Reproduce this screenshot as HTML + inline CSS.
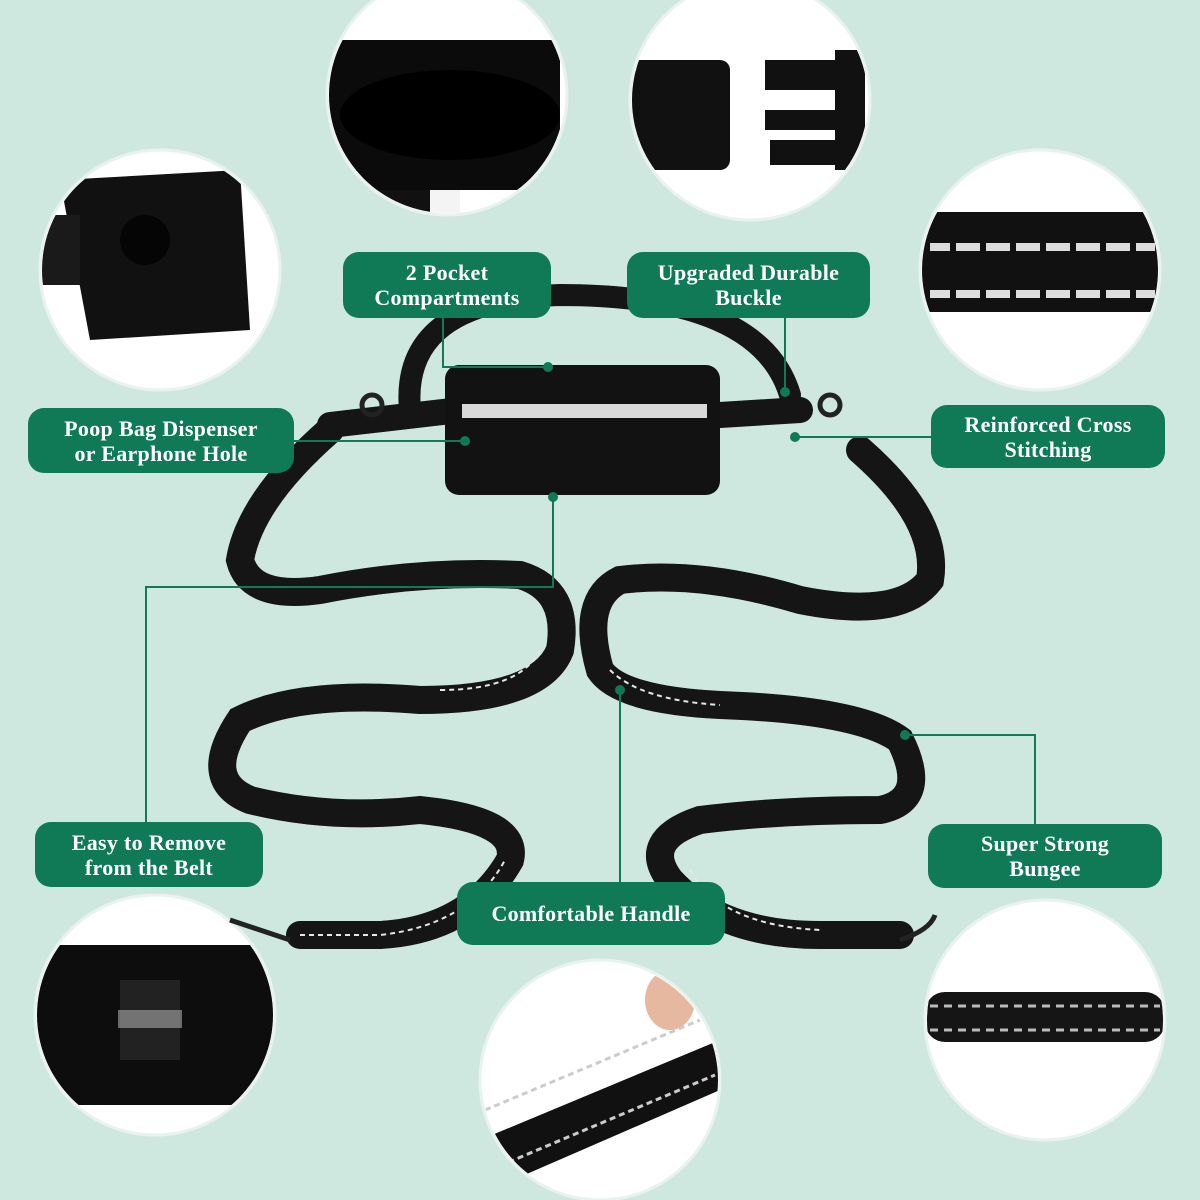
<!DOCTYPE html>
<html><head><meta charset="utf-8"><style>
html,body{margin:0;padding:0}
body{width:1200px;height:1200px;position:relative;overflow:hidden;background:#cfe8df;font-family:"Liberation Serif",serif}
.l{position:absolute;background:#0f7a55;color:#fff;font-weight:bold;font-size:22px;line-height:25px;text-align:center;border-radius:16px;display:flex;align-items:center;justify-content:center;letter-spacing:.3px}
svg{position:absolute;left:0;top:0}
</style></head><body>
<svg width="1200" height="1200" viewBox="0 0 1200 1200">
<defs>
<clipPath id="c1"><circle cx="447" cy="95" r="118"/></clipPath>
<clipPath id="c2"><circle cx="750" cy="100" r="118"/></clipPath>
<clipPath id="c3"><circle cx="160" cy="270" r="118"/></clipPath>
<clipPath id="c4"><circle cx="1040" cy="270" r="118"/></clipPath>
<clipPath id="c5"><circle cx="155" cy="1015" r="118"/></clipPath>
<clipPath id="c6"><circle cx="600" cy="1080" r="118"/></clipPath>
<clipPath id="c7"><circle cx="1045" cy="1020" r="118"/></clipPath>
</defs>
<!-- circles -->
<g fill="#fff" stroke="#e8f2ee" stroke-width="3">
<circle cx="447" cy="95" r="120"/><circle cx="750" cy="100" r="120"/>
<circle cx="160" cy="270" r="120"/><circle cx="1040" cy="270" r="120"/>
<circle cx="155" cy="1015" r="120"/><circle cx="600" cy="1080" r="120"/>
<circle cx="1045" cy="1020" r="120"/>
</g>
<g clip-path="url(#c1)"><rect x="320" y="40" width="240" height="150" fill="#0b0b0b"/><ellipse cx="450" cy="115" rx="110" ry="45" fill="#000"/><rect x="430" y="190" width="30" height="40" fill="#f4f4f4"/><rect x="330" y="190" width="100" height="30" fill="#111"/></g>
<g clip-path="url(#c2)"><rect x="630" y="60" width="100" height="110" rx="10" fill="#111"/><rect x="765" y="60" width="80" height="30" fill="#111"/><rect x="765" y="110" width="80" height="20" fill="#111"/><rect x="770" y="140" width="80" height="25" fill="#111"/><rect x="835" y="50" width="30" height="120" fill="#111"/></g>
<g clip-path="url(#c3)"><path d="M60 180 L240 170 L250 330 L90 340 Z" fill="#111"/><circle cx="145" cy="240" r="25" fill="#050505"/><rect x="40" y="215" width="40" height="70" fill="#1a1a1a"/></g>
<g clip-path="url(#c4)"><rect x="920" y="212" width="240" height="100" fill="#111"/><g fill="#ddd"><rect x="930" y="243" width="225" height="8" /><rect x="930" y="290" width="225" height="8"/></g><g fill="#111"><rect x="950" y="240" width="6" height="60"/><rect x="980" y="240" width="6" height="60"/><rect x="1010" y="240" width="6" height="60"/><rect x="1040" y="240" width="6" height="60"/><rect x="1070" y="240" width="6" height="60"/><rect x="1100" y="240" width="6" height="60"/><rect x="1130" y="240" width="6" height="60"/></g></g>
<g clip-path="url(#c5)"><rect x="35" y="945" width="240" height="160" fill="#0d0d0d"/><rect x="120" y="980" width="60" height="80" fill="#222"/><rect x="118" y="1010" width="64" height="18" fill="#aaa" opacity=".6"/></g>
<g clip-path="url(#c6)"><path d="M480 1140 L720 1040 L720 1090 L490 1190 Z" fill="#111"/><path d="M485 1110 L700 1020" stroke="#ccc" stroke-width="3" stroke-dasharray="6 4"/><path d="M490 1170 L715 1075" stroke="#ccc" stroke-width="3" stroke-dasharray="6 4"/><ellipse cx="670" cy="1000" rx="25" ry="30" fill="#e6b8a0"/></g>
<g clip-path="url(#c7)"><rect x="925" y="992" width="240" height="50" rx="20" fill="#151515"/><path d="M930 1006 H1160 M930 1030 H1160" stroke="#bbb" stroke-width="3" stroke-dasharray="8 6"/></g>
<!-- leash -->
<g fill="none" stroke="#151515" stroke-linecap="round">
<path d="M410 410 Q400 300 560 295 Q760 295 790 395" stroke-width="22"/>
<path d="M330 425 L460 410 M720 415 L800 410" stroke-width="26"/>
<path d="M330 430 Q250 500 240 560 Q250 600 320 590 Q420 570 520 575 Q570 590 560 650 Q540 700 420 700 Q300 690 240 720 Q200 780 250 800 Q330 820 420 810 Q520 820 510 860 Q470 930 380 935 L300 935" stroke-width="28"/>
<path d="M860 450 Q940 520 930 580 Q900 620 800 600 Q700 570 620 580 Q580 600 600 670 Q620 700 720 705 Q860 710 900 740 Q930 800 880 810 Q780 810 700 820 Q640 840 670 880 Q720 935 820 935 L900 935" stroke-width="28"/>
</g>
<g fill="none" stroke="#e6e6e6" stroke-width="2" stroke-dasharray="5 4">
<path d="M440 690 Q520 690 540 650 M300 935 L380 935 Q470 925 505 860 M610 670 Q640 700 720 705 M690 870 Q720 925 820 930"/>
</g>
<g stroke="#222" stroke-width="5" fill="none"><circle cx="372" cy="405" r="10"/><circle cx="830" cy="405" r="10"/><path d="M230 920 L290 940 M900 940 Q930 930 935 915"/></g>
<rect x="445" y="365" width="275" height="130" rx="14" fill="#121212"/>
<rect x="462" y="404" width="245" height="14" fill="#d8d8d8"/>
<!-- connectors -->
<g stroke="#0f7a55" stroke-width="2" fill="none">
<path d="M443 318 V367 H548"/><path d="M785 318 V388"/>
<path d="M294 441 H465"/><path d="M931 437 H795"/>
<path d="M553 497 V587 H146 V822"/><path d="M620 690 V882"/>
<path d="M905 735 H1035 V824"/>
</g>
<g fill="#0f7a55"><circle cx="548" cy="367" r="5"/><circle cx="785" cy="392" r="5"/><circle cx="465" cy="441" r="5"/><circle cx="795" cy="437" r="5"/><circle cx="553" cy="497" r="5"/><circle cx="620" cy="690" r="5"/><circle cx="905" cy="735" r="5"/></g>
</svg>
<div class="l" style="left:343px;top:252px;width:208px;height:66px">2 Pocket<br>Compartments</div>
<div class="l" style="left:627px;top:252px;width:243px;height:66px">Upgraded Durable<br>Buckle</div>
<div class="l" style="left:28px;top:408px;width:266px;height:65px">Poop Bag Dispenser<br>or Earphone Hole</div>
<div class="l" style="left:931px;top:405px;width:234px;height:63px">Reinforced Cross<br>Stitching</div>
<div class="l" style="left:35px;top:822px;width:228px;height:65px">Easy to Remove<br>from the Belt</div>
<div class="l" style="left:928px;top:824px;width:234px;height:64px">Super Strong<br>Bungee</div>
<div class="l" style="left:457px;top:882px;width:268px;height:63px">Comfortable Handle</div>
</body></html>
